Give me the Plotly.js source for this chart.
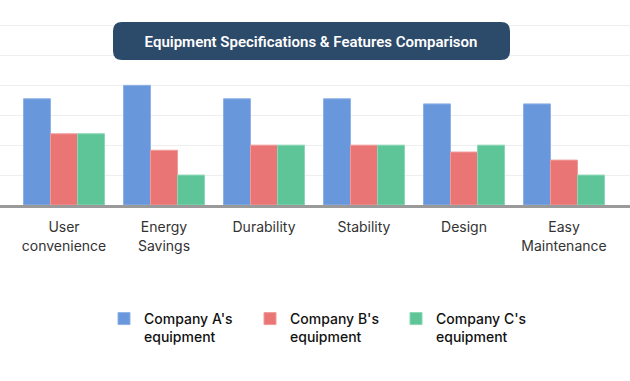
<!DOCTYPE html>
<html>
<head>
<meta charset="utf-8">
<script src="https://cdn.plot.ly/plotly-3.0.1.min.js"></script>
<style>html,body{margin:0;padding:0;background:#fff;}#chart{width:630px;height:381px;}</style>
</head>
<body>
<div id="chart"></div>
<script>
const categories = ["User<br>convenience", "Energy<br>Savings", "Durability", "Stability", "Design", "Easy<br>Maintenance"];
const seriesNames = ["Company A's<br>equipment", "Company B's<br>equipment", "Company C's<br>equipment"];
const companyA = [3.55, 4.0, 3.55, 3.55, 3.38, 3.38];
const companyB = [2.38, 1.83, 2.0, 2.0, 1.77, 1.5];
const companyC = [2.38, 1.0, 2.0, 2.0, 2.0, 1.0];
const colors = ["#6897dc", "#e97675", "#5dc597"];
const edges = ["#8fb2e6", "#f09b9a", "#8ad7b5"];
const titleText = "Equipment Specifications & Features Comparison";

const FONT = "Inter, 'Noto Sans', sans-serif";
const TFONT = "Roboto, sans-serif";
const values = [companyA, companyB, companyC];
const data = values.map((v, i) => ({
  type: "bar",
  name: seriesNames[i],
  x: categories,
  y: v,
  marker: {color: colors[i], line: {color: edges[i], width: 1}},
  hoverinfo: "none"
}));

const W = 630, H = 381, T = 24, B = 176;
const plotH = H - T - B;
function px(x) { return x / W; }
function py(y) { return (H - B - y) / plotH; }
const bx0 = 113, bx1 = 510, by0 = 22, by1 = 60, r = 9;
const path = `M ${px(bx0 + r)},${py(by0)} L ${px(bx1 - r)},${py(by0)} Q ${px(bx1)},${py(by0)} ${px(bx1)},${py(by0 + r)} ` +
  `L ${px(bx1)},${py(by1 - r)} Q ${px(bx1)},${py(by1)} ${px(bx1 - r)},${py(by1)} ` +
  `L ${px(bx0 + r)},${py(by1)} Q ${px(bx0)},${py(by1)} ${px(bx0)},${py(by1 - r)} ` +
  `L ${px(bx0)},${py(by0 + r)} Q ${px(bx0)},${py(by0)} ${px(bx0 + r)},${py(by0)} Z`;

const layout = {
  width: W, height: H,
  margin: {l: 0, r: 0, t: T, b: B, pad: 0},
  paper_bgcolor: "#fff", plot_bgcolor: "#fff",
  barmode: "group",
  bargap: 0.19,
  bargroupgap: 0,
  font: {family: FONT, size: 14, color: "#333"},
  title: {
    text: titleText,
    font: {family: TFONT, size: 15, color: "#ffffff", weight: 600},
    x: 311 / W, xanchor: "center", xref: "paper",
    y: 1 - 42 / H, yanchor: "middle", yref: "container"
  },
  xaxis: {
    range: [-0.64, 5.66],
    showgrid: false,
    showline: true, linecolor: "#9a9a9a", linewidth: 2.5,
    ticks: "", ticklabelstandoff: 8,
    tickfont: {family: FONT, size: 14, color: "#333"},
    fixedrange: true
  },
  yaxis: {
    range: [0, 6.05],
    dtick: 1,
    showgrid: true, gridcolor: "#eeeeee", gridwidth: 1,
    zeroline: false,
    showticklabels: false,
    fixedrange: true
  },
  shapes: [{
    type: "path", xref: "paper", yref: "paper", path: path,
    fillcolor: "#2c4a6a", line: {width: 0}, layer: "above"
  }],
  showlegend: true,
  legend: {
    orientation: "h",
    x: 0.5 + 8 / W, xanchor: "center",
    y: 1 - 303 / H, yanchor: "top", yref: "container",
    valign: "top",
    font: {family: FONT, size: 14, color: "#111", weight: 500},
    itemwidth: 30,
    entrywidth: 101,
    traceorder: "normal",
    itemclick: false, itemdoubleclick: false
  }
};

Plotly.newPlot("chart", data, layout, {displayModeBar: false, staticPlot: true});
</script>
</body>
</html>
